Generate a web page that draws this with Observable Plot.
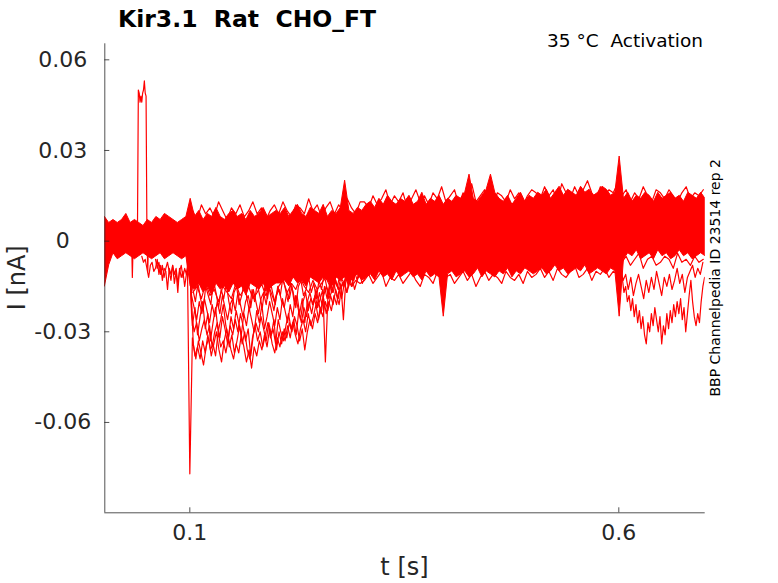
<!DOCTYPE html>
<html><head><meta charset="utf-8">
<script src="https://cdn.jsdelivr.net/npm/d3@7"></script>
<script src="https://cdn.jsdelivr.net/npm/@observablehq/plot@0.6"></script>
<style>body{margin:0;background:#fff} #chart{width:778px;height:583px}</style>
</head><body><div id="chart"></div>
<script>
// ---- axes ----
const xDomain = [0.0009, 0.7007];
const yDomain = [-0.0899, 0.0653];
const xTicks = [0.1, 0.6];
const xTickLabels = ["0.1", "0.6"];
const yTicks = [-0.06, -0.03, 0, 0.03, 0.06];
const yTickLabels = ["-0.06", "-0.03", "0", "0.03", "0.06"];

// ---- dense band of sweeps (values in pA), sampled every 5 ms from t = 1 ms ----
const bandStart = 0.001, bandStep = 0.005;
const bandUpper = [8,6,7,6,7,9,6,7,6,5,7,6,8,7,9,8,7,6,7,8,
  14,
  8,10,7,9,8,11,8,7,9,10,8,9,7,10,8,9,11,8,9,10,
  9,11,8,10,12,9,8,11,10,9,12,8,10,9,11,20,10,9,11,10,
  12,13,11,14,12,15,13,12,14,13,15,12,13,16,12,14,13,15,12,14,
  13,15,14,16,22,14,13,15,17,22,16,14,13,15,12,14,16,13,15,14,
  16,15,17,14,16,18,15,17,16,15,18,16,17,15,16,18,17,15,16,
  28,
  14,16,13,15,14,16,15,13,16,14,15,16,14,15,13,16,15,14,16,14];
const bandLower = [-15,-8,-4,-6,-5,-4,-5,-6,-5,-4,-5,-6,-5,-4,-6,-5,-4,-5,-6,-5,
  -15,
  -16,-14,-17,-15,-18,-14,-16,-15,-17,-14,-16,-15,-18,-14,-15,-16,-14,-17,-15,-14,
  -14,-13,-15,-12,-14,-13,-15,-12,-13,-14,-12,-13,-15,-12,-13,-12,-14,-12,-11,-13,
  -12,-11,-13,-10,-12,-11,-13,-10,-12,-11,-10,-12,-11,-13,-10,-12,-11,-12,-25,-11,
  -10,-12,-11,-10,-12,-11,-9,-12,-10,-11,-12,-10,-11,-9,-12,-10,-11,-9,-10,-11,
  -10,-9,-11,-10,-8,-10,-9,-11,-10,-9,-10,-8,-11,-10,-9,-10,-11,-9,-10,
  -25,
  -6,-4,-5,-3,-6,-5,-4,-6,-3,-5,-4,-6,-5,-3,-5,-4,-6,-5,-4,-5];

// ---- individual sweeps (values in pA): start time, sample step, values ----
const sweepSpike = {start: 0.030, step: 0.001, values: [1,-2,3,-12,0,4,-1,3,0,5,50,49,46,48,46,49,50,53,49,48,2,-10,3,0,4]};
const sweepPre1 = {start: 0.044, step: 0.002, values: [-5,-7,-6,-9,-12,-8,-7,-10,-9,-6,-11,-8,-13,-9,-10,-16,-9,-11,-8,-14,-10,-17,-9,-12,-10,-15,-11,-8]};
const sweepPre2 = {start: 0.060, step: 0.002, values: [-6,-9,-7,-11,-8,-12,-9,-7,-10,-13,-8,-11,-9,-14,-10,-8,-12,-9,-11,-7]};
const sweepA = {start: 0.094, step: 0.003, values: [1,-2,-77,-32,-38,-35,-39,-33,-37,-31,-36,-34,-38,-30,-35,-33,-37,-32,-36,-39,-34,-37,-31,-35,-40,-36,-42,-35,-38,-33,-36,-31,-35,-29,-34,-37,-32,-35,-30,-33,-28,-32,-27,-31,-34,-29,-26,-30,-24,-28,-25,-21,-26,-22,-19,-24,-20,-23,-18,-21,-16,-19,-14,-17,-12,-15,-10,-13,-8,-11,-6]};
const sweepB = {start: 0.099, step: 0.003, values: [0,-24,-30,-27,-33,-29,-26,-31,-28,-35,-30,-27,-32,-25,-29,-34,-28,-31,-26,-30,-24,-28,-33,-29,-38,-31,-27,-30,-25,-29,-33,-27,-31,-26,-36,-30,-34,-29,-32,-27,-30,-25,-28,-33,-29,-36,-30,-26,-29,-24,-27,-22,-25,-20,-23,-18,-21,-16,-19,-14,-26,-12,-15,-10,-13,-8,-11]};
const sweepC = {start: 0.099, step: 0.003, values: [0,-18,-22,-26,-20,-24,-19,-23,-27,-21,-25,-20,-24,-18,-22,-26,-21,-19,-23,-17,-21,-25,-20,-18,-22,-16,-20,-24,-19,-17,-21,-15,-19,-23,-18,-16,-20,-22,-17,-19,-15,-21,-18,-24,-19,-27,-20,-17,-21,-18,-22,-19,-16,-40,-18,-14,-17,-13,-16,-12,-15,-11,-14,-10,-13,-9,-12]};
const sweepF = {start: 0.100, step: 0.003, values: [-10,-28,-22,-31,-25,-20,-29,-24,-33,-27,-22,-30,-26,-21,-28,-32,-25,-29,-23,-27,-31,-24,-28,-22,-26,-30,-23,-27,-21,-29,-25,-20,-24,-28,-22,-26,-19,-23,-27,-21,-25,-18,-22,-26,-20,-17,-23,-19,-21,-16,-20,-24,-18,-15,-19,-17,-14,-18,-21,-15,-13,-17,-14,-12,-16,-13,-11,-14,-12,-10]};
const sweepG = {start: 0.1005, step: 0.003, values: [-8,-16,-20,-14,-19,-23,-15,-18,-21,-13,-17,-22,-16,-19,-14,-20,-24,-17,-15,-21,-18,-13,-19,-23,-16,-20,-14,-18,-22,-15,-19,-13,-17,-21,-15,-18,-12,-16,-20,-14,-17,-22,-15,-13,-18,-16,-12,-17,-14,-19,-13,-16,-11,-15,-18,-12,-14,-10,-13,-11]};
const sweepH = {start: 0.101, step: 0.003, values: [-12,-34,-39,-33,-37,-41,-35,-32,-38,-34,-30,-36,-40,-33,-29,-35,-31,-37,-33,-28,-34,-30,-36,-39,-32,-28,-33,-30,-35,-31,-27,-32,-29,-34,-26,-30,-33,-28,-24,-29,-26,-31,-23,-27,-22,-25,-20,-24,-19,-22,-17,-21,-15,-19,-14,-17,-12,-15,-11,-13]};
const sweepD = {start: 0.596, step: 0.002, values: [-9,-11,-8,-14,-12,-17,-15,-20,-18,-23,-19,-25,-21,-27,-23,-29,-25,-31,-34,-27,-30,-24,-28,-22,-26,-30,-25,-34,-28,-31,-24,-29,-23,-27,-21,-25,-20,-24,-19,-26,-22,-30,-24,-18,-13,-20,-25,-28,-24,-27,-20,-15,-12]};
const sweepE = {start: 0.596, step: 0.003, values: [-6,-10,-8,-13,-11,-16,-12,-18,-14,-11,-15,-19,-13,-17,-12,-16,-10,-14,-18,-12,-15,-11,-16,-13,-9,-14,-11,-17,-12,-10,-8,-12,-9,-11,-7]};
const sweepTop = {start: 0.1035, step: 0.005, values: [10,7,12,9,11,8,13,10,7,11,9,12,8,10,13,9,11,7,10,12,9,13,10,8,12,11,9,14,10,12,8,11,13,9,12,10,14,11,9,13,
  13,11,15,12,14,17,12,15,13,16,11,14,17,13,15,12,16,14,18,13,15,17,12,16,14,19,13,15,17,14,12,16,15,13,17,14,16,12,15,17,
  16,14,18,15,17,13,19,16,14,18,15,17,20,16,14,18,15,17,16,19,
  15,17,13,16,14,18,15,13,17,16,14,17,15,13,16,18,14,16,15,17]};
const sweepBottom = {start: 0.1035, step: 0.005, values: [-17,-15,-19,-14,-18,-16,-20,-15,-17,-19,-14,-18,-16,-15,-19,-17,-14,-18,-16,-20,-15,-13,-17,-14,-16,-12,-15,-17,-13,-16,-14,-12,-15,-13,-16,-14,-12,-15,-13,-14,
  -13,-11,-14,-12,-10,-15,-12,-13,-11,-14,-12,-10,-13,-15,-11,-12,-14,-10,-13,-12,-11,-14,-12,-10,-13,-11,-15,-12,-10,-13,-11,-12,-14,-10,-12,-13,-11,-14,-10,-12,
  -11,-9,-12,-10,-13,-9,-11,-12,-10,-8,-12,-11,-9,-13,-10,-11,-9,-12,-10,-11,
  -7,-5,-8,-6,-4,-9,-6,-5,-8,-7,-5,-6,-9,-4,-7,-6,-8,-5,-7,-6]};

// ---- texts ----
const titleText = "Kir3.1  Rat  CHO_FT";
const conditionText = "35 °C  Activation";
const sideText = "BBP Channelpedia ID 23514 rep 2";
const xLabel = "t [s]";
const yLabel = "I [nA]";

// ---- build tables ----
const pA = 1000;
const band = bandUpper.map((u, i) => ({t: bandStart + i * bandStep, hi: u / pA, lo: bandLower[i] / pA}));
const sweeps = {sweepSpike, sweepPre1, sweepPre2, sweepA, sweepB, sweepC, sweepF, sweepG, sweepH, sweepD, sweepE, sweepTop, sweepBottom};
const traces = Object.entries(sweeps).flatMap(([id, s]) =>
  s.values.map((v, i) => ({id, t: s.start + i * s.step, v: v / pA})));

const W = 778, H = 583;
const mL = 104.3, mR = 73.3, mT = 43.3, mB = 70.7;
const frameW = W - mL - mR, frameH = H - mT - mB;
const axisColor = "#262626";
const red = "#ff0000";

const svg = Plot.plot({
  width: W, height: H,
  marginLeft: mL, marginRight: mR, marginTop: mT, marginBottom: mB,
  style: {fontFamily: "DejaVu Sans", fontSize: "22px", color: axisColor, background: "#fff"},
  x: {domain: xDomain},
  y: {domain: yDomain},
  marks: [
    Plot.areaY(band, {x: "t", y1: "lo", y2: "hi", fill: red, stroke: red, strokeWidth: 1, clip: true}),
    Plot.lineY(traces, {x: "t", y: "v", z: "id", stroke: red, strokeWidth: 1.2, clip: true}),
    Plot.ruleX([xDomain[0]], {stroke: axisColor, strokeWidth: 0.8}),
    Plot.ruleY([yDomain[0]], {stroke: axisColor, strokeWidth: 0.8}),
    Plot.tickY(yTicks, {y: d => d, stroke: axisColor, strokeWidth: 0.8, insetRight: frameW - 5}),
    Plot.tickX(xTicks, {x: d => d, stroke: axisColor, strokeWidth: 0.8, insetTop: frameH - 5}),
    Plot.axisY({ticks: yTicks, tickSize: 0, tickPadding: 42, textAnchor: "middle", label: null,
      tickFormat: d => yTickLabels[yTicks.indexOf(d)], fontSize: 22}),
    Plot.axisX({ticks: xTicks, tickSize: 0, tickPadding: 12, label: null,
      tickFormat: d => xTickLabels[xTicks.indexOf(d)], fontSize: 22})
  ]
});
document.getElementById("chart").appendChild(svg);

const s = d3.select(svg);
s.append("text").attr("x", 118).attr("y", 27).attr("text-anchor", "start")
  .attr("font-family", "DejaVu Sans").attr("font-weight", "bold").attr("font-size", 23.5)
  .attr("fill", "#000").style("white-space", "pre").text(titleText);
s.append("text").attr("x", 703).attr("y", 47).attr("text-anchor", "end")
  .attr("font-family", "DejaVu Sans").attr("font-size", 18.5)
  .attr("fill", "#000").style("white-space", "pre").text(conditionText);
s.append("text").attr("transform", `translate(720,277.8) rotate(-90)`).attr("text-anchor", "middle")
  .attr("font-family", "DejaVu Sans").attr("font-size", 14)
  .attr("fill", "#000").text(sideText);
s.append("text").attr("x", (mL + W - mR) / 2).attr("y", 575).attr("text-anchor", "middle")
  .attr("font-family", "DejaVu Sans").attr("font-size", 24)
  .attr("fill", axisColor).text(xLabel);
s.append("text").attr("transform", `translate(25,${mT + frameH / 2}) rotate(-90)`).attr("text-anchor", "middle")
  .attr("font-family", "DejaVu Sans").attr("font-size", 24)
  .attr("fill", axisColor).text(yLabel);
</script>
</body></html>
